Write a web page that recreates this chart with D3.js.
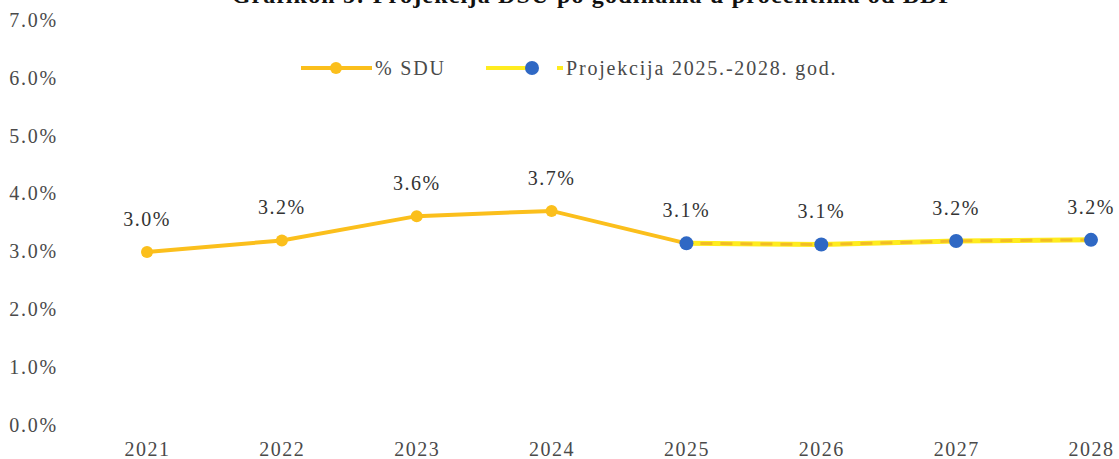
<!DOCTYPE html>
<html>
<head>
<meta charset="utf-8">
<script src="https://cdn.jsdelivr.net/npm/d3@7"></script>
<style>
  body { margin: 0; background: #fff; }
  svg { display: block; font-family: "Liberation Serif", "Times New Roman", serif; }
</style>
</head>
<body>
<div class="container"></div>
<script>
const years = ["2021", "2022", "2023", "2024", "2025", "2026", "2027", "2028"];
const sdu = [2.99, 3.19, 3.61, 3.7, 3.14, 3.12, 3.18, 3.2];
const projYears = ["2025", "2026", "2027", "2028"];
const proj = [3.14, 3.12, 3.18, 3.2];
const yTicks = [0, 1, 2, 3, 4, 5, 6, 7];
const titleText = "Grafikon 5: Projekcija DSU po godinama u procentima od BDP";
const legendLabels = ["% SDU", "Projekcija 2025.-2028. god."];

const W = 1119, H = 459;
const fmt = v => v.toFixed(1) + "%";

const svg = d3.select(".container").append("svg")
    .attr("width", W)
    .attr("height", H);

// naslov, odsječen na vrhu kao u originalu
svg.append("text")
    .attr("x", 593)
    .attr("y", 3)
    .attr("text-anchor", "middle")
    .attr("font-weight", "bold")
    .attr("font-size", 24)
    .attr("letter-spacing", 1.2)
    .attr("fill", "#111")
    .text(titleText);

const x = d3.scalePoint()
    .domain(years)
    .range([147, 1091]);

const y = d3.scaleLinear()
    .domain([0, 7])
    .range([425, 20]);

// y osa, samo oznake
const yAxis = svg.append("g")
    .attr("transform", "translate(60,0)")
    .call(d3.axisLeft(y).tickValues(yTicks).tickFormat(d => d.toFixed(1) + "%").tickSize(0).tickPadding(2));
yAxis.select(".domain").remove();
yAxis.selectAll("text")
    .attr("font-family", "Liberation Serif, serif")
    .attr("font-size", 20)
    .attr("letter-spacing", 1.8)
    .attr("fill", "#4a4a4a");

// x osa
const xAxis = svg.append("g")
    .attr("transform", "translate(0,440)")
    .call(d3.axisBottom(x).tickSize(0).tickPadding(2));
xAxis.select(".domain").remove();
xAxis.selectAll("text")
    .attr("font-family", "Liberation Serif, serif")
    .attr("font-size", 20)
    .attr("letter-spacing", 1.5)
    .attr("fill", "#4a4a4a");

const line = d3.line()
    .x(d => x(d.year))
    .y(d => y(d.value));

const sduData = years.map((yr, i) => ({ year: yr, value: sdu[i] }));
const projData = projYears.map((yr, i) => ({ year: yr, value: proj[i] }));

// glavna linija
svg.append("path")
    .datum(sduData.slice(0, 5))
    .attr("fill", "none")
    .attr("stroke", "#FBBF1C")
    .attr("stroke-width", 4)
    .attr("d", line);

// projekcija: žuta linija sa isprekidanim slojem
svg.append("path")
    .datum(projData)
    .attr("fill", "none")
    .attr("stroke", "#FFEC1F")
    .attr("stroke-width", 5)
    .attr("d", line);
svg.append("path")
    .datum(projData)
    .attr("fill", "none")
    .attr("stroke", "#F2BC24")
    .attr("stroke-width", 3)
    .attr("stroke-dasharray", "12,8")
    .attr("stroke-dashoffset", -14)
    .attr("d", line);

svg.selectAll(".dot")
    .data(sduData.slice(0, 4))
    .enter().append("circle")
    .attr("class", "dot")
    .attr("cx", d => x(d.year))
    .attr("cy", d => y(d.value))
    .attr("r", 6)
    .attr("fill", "#FBBF1C");

svg.selectAll(".pdot")
    .data(projData)
    .enter().append("circle")
    .attr("class", "pdot")
    .attr("cx", d => x(d.year))
    .attr("cy", d => y(d.value))
    .attr("r", 7)
    .attr("fill", "#2F68C4");

// oznake vrijednosti
svg.selectAll(".lbl")
    .data(sduData)
    .enter().append("text")
    .attr("class", "lbl")
    .attr("x", d => x(d.year))
    .attr("y", d => y(d.value) - 26)
    .attr("text-anchor", "middle")
    .attr("font-size", 20)
    .attr("letter-spacing", 1.5)
    .attr("fill", "#333")
    .text(d => fmt(d.value));

// legenda
const lg = svg.append("g");
lg.append("line")
    .attr("x1", 301).attr("x2", 372).attr("y1", 68).attr("y2", 68)
    .attr("stroke", "#FBBF1C").attr("stroke-width", 4);
lg.append("circle")
    .attr("cx", 336).attr("cy", 68).attr("r", 6).attr("fill", "#FBBF1C");
lg.append("text")
    .attr("x", 375).attr("y", 75)
    .attr("font-size", 20).attr("letter-spacing", 1.8).attr("fill", "#4a4a4a")
    .text(legendLabels[0]);

lg.append("line")
    .attr("x1", 486).attr("x2", 528).attr("y1", 68).attr("y2", 68)
    .attr("stroke", "#FFEC1F").attr("stroke-width", 4);
lg.append("circle")
    .attr("cx", 532).attr("cy", 68).attr("r", 7).attr("fill", "#2F68C4");
lg.append("line")
    .attr("x1", 557).attr("x2", 563).attr("y1", 68).attr("y2", 68)
    .attr("stroke", "#FFEC1F").attr("stroke-width", 4);
lg.append("text")
    .attr("x", 566).attr("y", 75)
    .attr("font-size", 20).attr("letter-spacing", 1.8).attr("fill", "#4a4a4a")
    .text(legendLabels[1]);
</script>
</body>
</html>
